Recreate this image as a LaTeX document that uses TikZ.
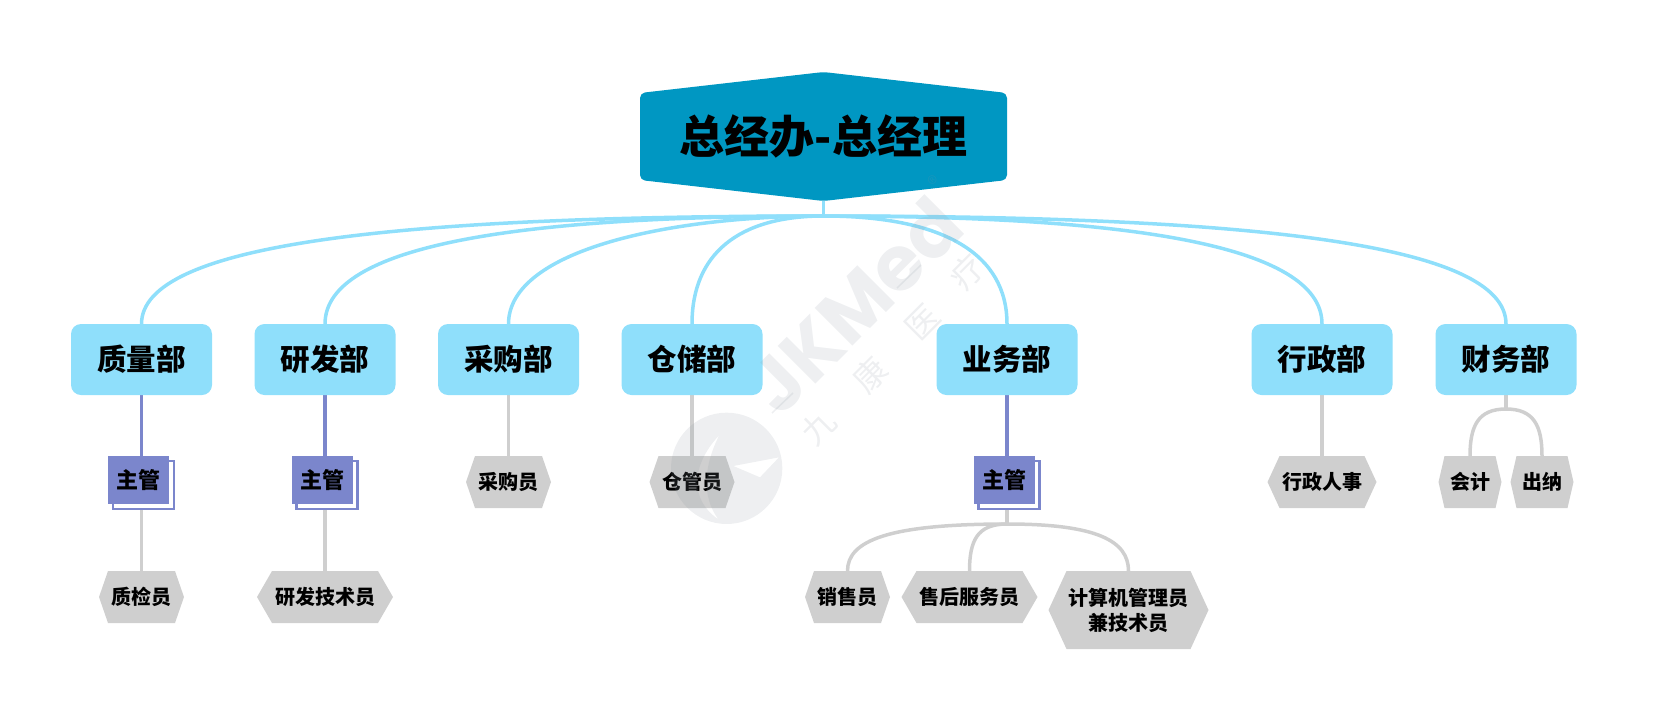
\documentclass[tikz,border=0pt]{standalone}
\usepackage{xcolor}
\usepackage{fontspec}
\setmainfont{Noto Sans CJK SC}
\setsansfont{Poppins}
\usepackage{tikz}
\usetikzlibrary{positioning, shadows, backgrounds}

\definecolor{rootblue}{HTML}{0097C2}
\definecolor{deptblue}{HTML}{8FDFFB}
\definecolor{superblue}{HTML}{7B86CC}
\definecolor{leafgray}{HTML}{CFCFCF}
\definecolor{markgray}{HTML}{8A94A0}

\begin{document}
\begin{tikzpicture}[
    x=1pt, y=-1pt,
    every node/.style={inner sep=0pt, outer sep=0pt},
    rootbox/.style={rectangle, minimum width=367pt, minimum height=129pt, font=\fontsize{45}{52}\selectfont\bfseries,
        path picture={\fill[rootblue, rounded corners=5pt] (path picture bounding box.north) -- ([yshift=-21pt]path picture bounding box.north east) -- ([yshift=21pt]path picture bounding box.south east) -- (path picture bounding box.south) -- ([yshift=21pt]path picture bounding box.south west) -- ([yshift=-21pt]path picture bounding box.north west) -- cycle;}},
    dept/.style={rectangle, rounded corners=10pt, fill=deptblue, minimum width=141pt, minimum height=71pt, font=\fontsize{29.5}{35}\selectfont\bfseries},
    superbox/.style={rectangle, fill=superblue, minimum width=61pt, minimum height=48pt, font=\fontsize{22}{26}\selectfont\bfseries, copy shadow={draw=superblue, fill=white, line width=2.5pt, shadow xshift=5pt, shadow yshift=-5pt}},
    leaf/.style 2 args={rectangle, minimum width=#1pt, minimum height=52pt, align=center, font=\fontsize{20}{25}\selectfont\bfseries,
        path picture={\fill[leafgray] (path picture bounding box.west) -- ([xshift=#2pt]path picture bounding box.north west) -- ([xshift=-#2pt]path picture bounding box.north east) -- (path picture bounding box.east) -- ([xshift=-#2pt]path picture bounding box.south east) -- ([xshift=#2pt]path picture bounding box.south west) -- cycle;}},
    trunk/.style={draw=deptblue, line width=3.5pt},
    purple line/.style={draw=superblue, line width=3.5pt},
    twig/.style={draw=leafgray, line width=3.5pt},
    watermark/.style={text=markgray, text opacity=0.15, rotate=45}
]
\useasboundingbox (0,0) rectangle (1662,716);

\node (root) [rootbox] at (823.5,136.5) {总经办-总经理};

\node (dept1) [dept] at (141.5,359.5) {质量部};
\node (dept2) [dept, right=42.5pt of dept1] {研发部};
\node (dept3) [dept, right=42.5pt of dept2] {采购部};
\node (dept4) [dept, right=42.5pt of dept3] {仓储部};
\node (dept5) [dept, right=174pt of dept4] {业务部};
\node (dept6) [dept, right=174pt of dept5] {行政部};
\node (dept7) [dept, right=43pt of dept6] {财务部};

\node (super1) [superbox, below=61pt of dept1, xshift=-3pt] {主管};
\node (super2) [superbox, below=61pt of dept2, xshift=-3pt] {主管};
\node (super5) [superbox, below=61pt of dept5, xshift=-3pt] {主管};

\node (inspector) [leaf={85}{9}, below=67pt of super1, xshift=3pt] {质检员};
\node (developer) [leaf={136}{15}, below=67pt of super2, xshift=3pt] {研发技术员};
\node (buyer) [leaf={85}{9}, below=61pt of dept3] {采购员};
\node (keeper) [leaf={85}{9}, below=61pt of dept4] {仓管员};
\node (sales) [leaf={85}{9}, below=67pt of super5, xshift=-156.5pt] {销售员};
\node (service) [leaf={136}{15}, below=67pt of super5, xshift=-34.5pt] {售后服务员};
\node (computer) [leaf={160}{18}, minimum height=78pt, below=67pt of super5, xshift=124.5pt] {计算机管理员\\兼技术员};
\node (clerk) [leaf={109}{12}, below=61pt of dept6] {行政人事};
\node (accountant) [leaf={63}{6}, below=61pt of dept7, xshift=-36pt] {会计};
\node (cashier) [leaf={63}{6}, below=61pt of dept7, xshift=36pt] {出纳};

\coordinate (hub) at ([yshift=-15pt]root.south);
\coordinate (hub5) at ([yshift=-129pt]dept5.south);
\coordinate (hub7) at ([yshift=-14pt]dept7.south);

\begin{scope}[on background layer]
\draw [trunk] (root.south) -- (hub);
\foreach \name/\dx/\dy in {dept1/-430/-80, dept2/-300/-80, dept3/-150/-75, dept4/-85/-70, dept5/120/-70, dept6/300/-80, dept7/430/-80} {
    \draw [trunk] (hub) .. controls +(\dx,0) and +(0,\dy) .. (\name.north);
}
\draw [purple line] (dept1.south) -- (dept1.south |- super1.north);
\draw [purple line] (dept2.south) -- (dept2.south |- super2.north);
\draw [purple line] (dept5.south) -- (dept5.south |- super5.north);
\draw [twig] (dept3) -- (buyer);
\draw [twig] (dept4) -- (keeper);
\draw [twig] (dept6) -- (clerk);
\draw [twig] (inspector.north) -- (inspector.north |- super1.south);
\draw [twig] (developer.north) -- (developer.north |- super2.south);
\draw [twig] (hub5) -- (hub5 |- super5.south);
\draw [twig] (hub5) .. controls +(-120,0) and +(0,-30) .. (sales.north);
\draw [twig] (hub5) .. controls +(-30,0) and +(0,-30) .. (service.north);
\draw [twig] (hub5) .. controls +(90,0) and +(0,-30) .. (computer.north);
\draw [twig] (dept7.south) -- (hub7);
\draw [twig] (hub7) .. controls +(-28,0) and +(0,-30) .. (accountant.north);
\draw [twig] (hub7) .. controls +(28,0) and +(0,-30) .. (cashier.north);
\end{scope}

% faint company mark on top of everything
\node (markname) [watermark, font=\fontsize{76}{80}\selectfont\sffamily\bfseries] at (855,305) {JKMed};
\node (markjiu) [watermark, font=\fontsize{33}{36}\selectfont] at (818,427) {九};
\node (markkang) [watermark, font=\fontsize{33}{36}\selectfont] at (870,375) {康};
\node (markyi) [watermark, font=\fontsize{33}{36}\selectfont] at (922,322) {医};
\node (markliao) [watermark, font=\fontsize{33}{36}\selectfont] at (967,272) {疗};
\node (markreg) [watermark, font=\fontsize{20}{22}\selectfont] at (935,183) {®};
\draw [markgray, opacity=0.15, line width=1.5pt] (772,413) -- (793,393);
\draw [markgray, opacity=0.15, line width=1.5pt] (897,288) -- (921,265);
\begin{scope}[shift={(660,400)}, x=0.3333pt, y=-0.3333pt]
\fill [markgray, opacity=0.15, even odd rule] (200,205) circle [radius=167pt*0.3333]
    (357,172) -- (220,198) -- (300,232) -- cycle
    (178,105) .. controls (90,200) and (90,300) .. (175,358) .. controls (125,290) and (130,200) .. (178,105) -- cycle;
\end{scope}

\end{tikzpicture}
\end{document}
